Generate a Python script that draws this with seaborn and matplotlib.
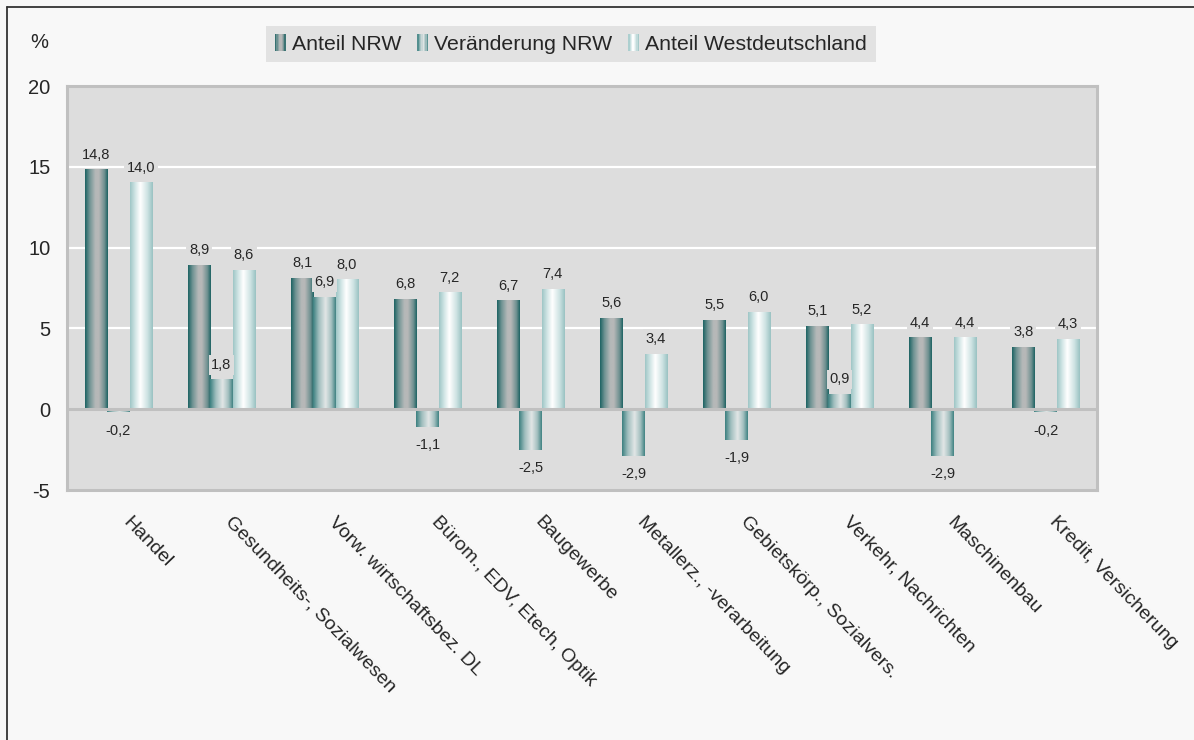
import numpy as np
import pandas as pd
import matplotlib
matplotlib.use("Agg")
import matplotlib.pyplot as plt
import matplotlib.transforms as mtransforms
import seaborn as sns
from matplotlib.colors import LinearSegmentedColormap
from matplotlib.legend_handler import HandlerBase
from matplotlib.patches import Rectangle
from matplotlib.lines import Line2D

# Données
branchen = ["Handel", "Gesundheits-, Sozialwesen", "Vorw. wirtschaftsbez. DL",
            "Bürom., EDV, Etech, Optik", "Baugewerbe", "Metallerz., -verarbeitung",
            "Gebietskörp., Sozialvers.", "Verkehr, Nachrichten", "Maschinenbau",
            "Kredit, Versicherung"]
reihen = ["Anteil NRW", "Veränderung NRW", "Anteil Westdeutschland"]
anteil_nrw = [14.8, 8.9, 8.1, 6.8, 6.7, 5.6, 5.5, 5.1, 4.4, 3.8]
veraenderung_nrw = [-0.2, 1.8, 6.9, -1.1, -2.5, -2.9, -1.9, 0.9, -2.9, -0.2]
anteil_west = [14.0, 8.6, 8.0, 7.2, 7.4, 3.4, 6.0, 5.2, 4.4, 4.3]
y_ticks = [-5, 0, 5, 10, 15, 20]

# Dégradés horizontaux des barres
cmaps = [
    LinearSegmentedColormap.from_list("nrw", [(0, "#1b6262"), (0.2, "#6f9393"), (0.45, "#b4b8b8"),
                                              (0.6, "#b8b8b8"), (0.85, "#6f9090"), (1, "#1b6262")]),
    LinearSegmentedColormap.from_list("ver", [(0, "#3a7f7f"), (0.25, "#9ebdbd"), (0.55, "#e2e6e6"),
                                              (0.8, "#a4c0c0"), (1, "#3f8282")]),
    LinearSegmentedColormap.from_list("west", [(0, "#9ec6c6"), (0.25, "#d6e8e8"), (0.45, "#ffffff"),
                                               (0.75, "#d0e4e4"), (1, "#99c2c2")]),
]

sns.set_style("white")
plt.rcParams["font.family"] = ["Liberation Sans", "DejaVu Sans"]

df = pd.DataFrame({
    "Branche": branchen * 3,
    "Reihe": [reihen[0]] * 10 + [reihen[1]] * 10 + [reihen[2]] * 10,
    "Wert": anteil_nrw + veraenderung_nrw + anteil_west,
})

fig = plt.figure(figsize=(11.94, 7.4), dpi=100, facecolor="#f8f8f8")
ax = fig.add_axes([67 / 1194, 1 - 490 / 740, (1097 - 67) / 1194, (490 - 86) / 740])
ax.set_facecolor("#dddddd")

sns.barplot(data=df, x="Branche", y="Wert", hue="Reihe", order=branchen,
            hue_order=reihen, width=0.65, gap=0, ax=ax, legend=False,
            saturation=1, zorder=3)

# Remplissage en dégradé de chaque barre
grad = np.linspace(0, 1, 256).reshape(1, -1)
for cont, cm in zip(ax.containers, cmaps):
    for p in cont.patches:
        x0, y0 = p.get_x(), p.get_y()
        w, h = p.get_width(), p.get_height()
        p.set_facecolor("none")
        p.set_edgecolor("none")
        ax.imshow(grad, extent=[x0, x0 + w, min(y0, y0 + h), max(y0, y0 + h)],
                  aspect="auto", cmap=cm, zorder=3, interpolation="bilinear")

# Étiquettes de valeurs (virgule décimale), positives et négatives séparément
for cont, vals in zip(ax.containers, [anteil_nrw, veraenderung_nrw, anteil_west]):
    pos = [f"{v:.1f}".replace(".", ",") if v >= 0 else "" for v in vals]
    neg = [f"{v:.1f}".replace(".", ",") if v < 0 else "" for v in vals]
    ax.bar_label(cont, labels=pos, padding=6, fontsize=10.5, zorder=5,
                 bbox=dict(fc="#dddddd", ec="none", pad=2))
    ax.bar_label(cont, labels=neg, padding=8, fontsize=10.5, zorder=5)

ax.set_xlim(-0.5, len(branchen) - 0.5)
ax.set_ylim(-5, 20)
ax.set_yticks(y_ticks)
ax.set_yticklabels([str(t) for t in y_ticks], fontsize=14.5)
for yv in [5, 10, 15]:
    ax.axhline(yv, color="white", lw=1.6, zorder=1)
ax.axhline(0, color="#c0c0c0", lw=2.2, zorder=4)

for s in ["left", "right", "top", "bottom"]:
    ax.spines[s].set_visible(True)
    ax.spines[s].set_color("#c0c0c0")
    ax.spines[s].set_linewidth(2.2)

ax.tick_params(axis="y", direction="out", length=6, width=2, color="#c0c0c0", pad=6)
ax.tick_params(axis="x", length=0, pad=17)
ax.set_xlabel("")
ax.set_ylabel("")
decal = mtransforms.ScaledTranslation(13 / 100, 0, fig.dpi_scale_trans)
for lab in ax.get_xticklabels():
    lab.set_rotation(-46)
    lab.set_ha("left")
    lab.set_rotation_mode("anchor")
    lab.set_fontsize(14)
    lab.set_transform(lab.get_transform() + decal)

fig.text(30 / 1194, 1 - 42 / 740, "%", fontsize=14.5, va="center", ha="left")


# Poignées de légende en dégradé
class GradHandler(HandlerBase):
    def __init__(self, cm):
        super().__init__()
        self.cm = cm

    def create_artists(self, legend, orig, xd, yd, width, height, fontsize, trans):
        n = 8
        arts = []
        for k in range(n):
            r = Rectangle((xd + k * width / n, yd - 1), width / n, height + 2,
                          fc=self.cm((k + 0.5) / n), ec="none", transform=trans)
            arts.append(r)
        return arts


handles = [Rectangle((0, 0), 1, 1) for _ in reihen]
leg = fig.legend(handles, reihen, loc="center", bbox_to_anchor=(571 / 1194, 1 - 44 / 740),
                 ncol=3, frameon=True, fontsize=15.3, handlelength=0.5, handleheight=0.65,
                 handletextpad=0.3, columnspacing=0.75, borderpad=0.4, borderaxespad=0,
                 handler_map={h: GradHandler(cm) for h, cm in zip(handles, cmaps)})
leg.get_frame().set_facecolor("#dddddd")
leg.get_frame().set_edgecolor("none")
leg.get_frame().set_boxstyle("square", pad=0)

# Cadre du graphique (gauche et haut)
fig.add_artist(Line2D([7 / 1194, 7 / 1194], [0, 1 - 7 / 740], color="#333333", lw=1.3))
fig.add_artist(Line2D([7 / 1194, 1], [1 - 7 / 740, 1 - 7 / 740], color="#333333", lw=1.3))

fig.savefig("out.png", dpi=100, facecolor=fig.get_facecolor())
